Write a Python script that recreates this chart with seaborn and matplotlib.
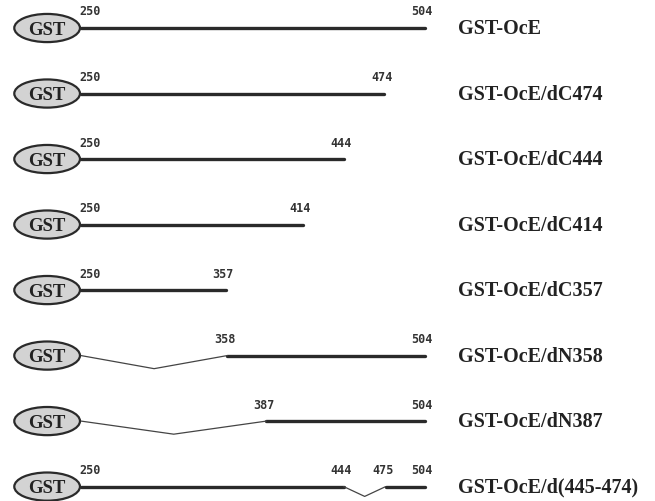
import matplotlib
matplotlib.use("Agg")
import matplotlib.pyplot as plt
from matplotlib.patches import Ellipse
import seaborn as sns
import pandas as pd

sns.set_theme(style="white")

# ---- data ----
names = ["GST-OcE", "GST-OcE/dC474", "GST-OcE/dC444", "GST-OcE/dC414",
         "GST-OcE/dC357", "GST-OcE/dN358", "GST-OcE/dN387", "GST-OcE/d(445-474)"]
starts = [250, 250, 250, 250, 250, 250, 250, 250]
ends = [504, 474, 444, 414, 357, 504, 504, 504]
# deleted region shown as a V (from, to) or None
del_from = [None, None, None, None, None, 250, 250, 444]
del_to = [None, None, None, None, None, 358, 387, 475]
# residue numbers printed above each construct
num_labels = [["250", "504"], ["250", "474"], ["250", "444"], ["250", "414"],
              ["250", "357"], ["358", "504"], ["387", "504"],
              ["250", "444", "475", "504"]]
num_pos = [[250, 504], [250, 474], [250, 444], [250, 414],
           [250, 357], [358, 504], [387, 504], [250, 444, 475, 504]]

fig = plt.figure(figsize=(6.55, 5.02), dpi=100)
ax = fig.add_axes([0, 0, 1, 1])
ax.set_xlim(190.2, 673.9)
ax.set_ylim(7.22, -0.443)
ax.axis("off")

dark = "#2a2a2a"

# solid (thick) segments
segs = []
for i in range(len(names)):
    if del_from[i] is None:
        segs.append((i, starts[i], ends[i]))
    elif del_from[i] == starts[i]:
        segs.append((i, del_to[i], ends[i]))
    else:
        segs.append((i, starts[i], del_from[i]))
        segs.append((i, del_to[i], ends[i]))
seg_rows = []
for k, (r, a, b) in enumerate(segs):
    seg_rows.append({"seg": k, "x": a, "y": r})
    seg_rows.append({"seg": k, "x": b, "y": r})
seg_df = pd.DataFrame(seg_rows)
sns.lineplot(data=seg_df, x="x", y="y", units="seg", estimator=None,
             color=dark, linewidth=2.4, ax=ax, sort=False)

# deletion V lines (thin)
v_rows = []
for i in range(len(names)):
    if del_from[i] is not None:
        a, b = del_from[i], del_to[i]
        depth = 0.2 if (b - a) > 60 else 0.15
        v_rows += [{"v": i, "x": a, "y": i},
                   {"v": i, "x": (a + b) / 2, "y": i + depth},
                   {"v": i, "x": b, "y": i}]
v_df = pd.DataFrame(v_rows)
sns.lineplot(data=v_df, x="x", y="y", units="v", estimator=None,
             color="#444444", linewidth=0.9, ax=ax, sort=False)

# GST ellipses
for i in range(len(names)):
    e = Ellipse((225.0, i), width=48.5, height=0.43, facecolor="#d3d3d3",
                edgecolor=dark, linewidth=1.6, zorder=5)
    ax.add_patch(e)
    ax.text(225.0, i + 0.02, "GST", ha="center", va="center", fontsize=13.5,
            fontweight="bold", family="Liberation Serif", color="#222222", zorder=6)

# residue number labels
for i in range(len(names)):
    for lab, p in zip(num_labels[i], num_pos[i]):
        ha = "left" if p == 250 else "center"
        xp = 249 if p == 250 else p - 2
        ax.text(xp, i - 0.26, lab, ha=ha, va="center", fontsize=8.5,
                fontweight="bold", family="DejaVu Sans Mono", color="#333333")

# construct names
for i, n in enumerate(names):
    ax.text(528.5, i, n, ha="left", va="center", fontsize=14.5,
            fontweight="bold", family="Liberation Serif", color="#222222")

fig.savefig("out.png", dpi=100)
